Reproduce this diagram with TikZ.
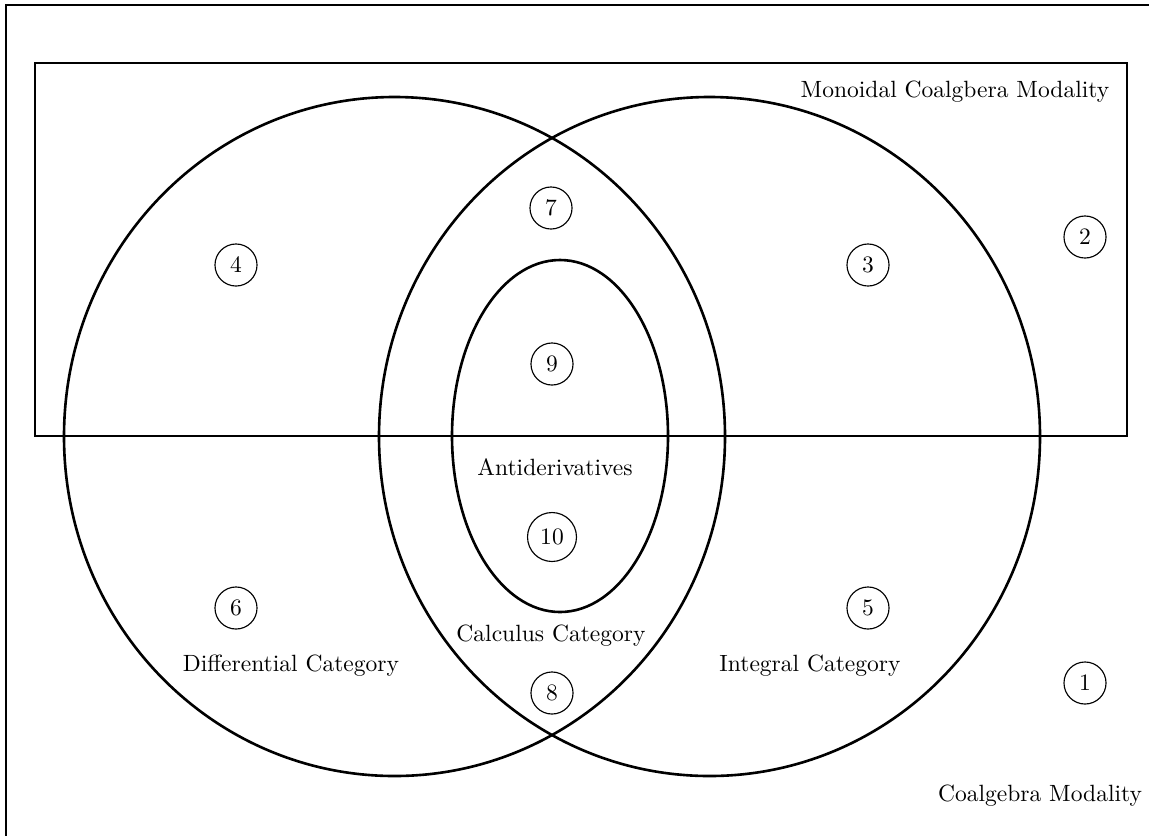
\documentclass[tikz,border=0pt]{standalone}
\begin{document}
\begin{tikzpicture}[x=0.44pt,y=-0.44pt,
  font=\fontsize{10.35pt}{12.4pt}\selectfont,
  bigline/.style={line width=1.15pt},
  num/.style={draw,circle,line width=0.5pt,minimum size=18.5pt,inner sep=3.2pt},
  lbl/.style={inner sep=0pt}]
\useasboundingbox (0,0) rectangle (1149,835);
\coordinate (frameTL) at (6,5);
\coordinate (frameBR) at (1200,900);
\draw[bigline] (frameTL) rectangle (frameBR);
\draw[bigline] (35,63) rectangle (1127,436);
\draw[bigline] (394.5,436.5) ellipse [x radius=330.5, y radius=339.5];
\draw[bigline] (709.5,436.5) ellipse [x radius=330.5, y radius=339.5];
\draw[bigline] (560,436) ellipse [x radius=108, y radius=176];
\node[num] (n1) at (1085,683) {1};
\node[num] (n2) at (1085,237) {2};
\node[num] (n3) at (868,265) {3};
\node[num] (n4) at (236,265) {4};
\node[num] (n5) at (868,608) {5};
\node[num] (n6) at (236,608) {6};
\node[num] (n7) at (551,208) {7};
\node[num] (n8) at (552,693) {8};
\node[num] (n9) at (552,364) {9};
\node[num] (n10) at (552,537) {10};
\node[lbl] (lmcm) at (955,92) {Monoidal Coalgbera Modality};
\node[lbl] (lanti) at (555,467) {Antiderivatives};
\node[lbl] (lcalc) at (551,636) {Calculus Category};
\node[lbl] (ldiff) at (291,666) {Differential Category};
\node[lbl] (lint) at (810,666) {Integral Category};
\node[lbl] (lcm) at (1040,796) {Coalgebra Modality};
\end{tikzpicture}
\end{document}
